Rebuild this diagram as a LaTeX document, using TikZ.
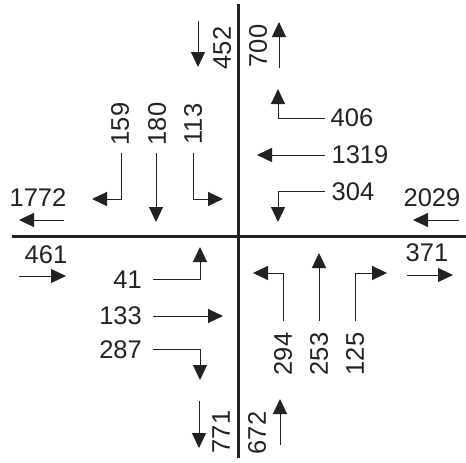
\documentclass[tikz,border=0pt]{standalone}
\usepackage{fontspec}
\setmainfont{Liberation Sans}
\usetikzlibrary{arrows.meta}
\definecolor{ink}{HTML}{222222}
\begin{document}
\begin{tikzpicture}[x=1pt,y=-1pt,
  road/.style={line width=3pt, draw=ink},
  flow/.style={line width=1pt, draw=ink, -{Triangle[length=15pt,width=14pt]}},
  count/.style={inner sep=0pt, text=ink, font=\fontsize{25.5}{25.5}\selectfont},
  vcount/.style={count, rotate=90}]
\useasboundingbox (0,0) rectangle (466,463);

% ---- the two crossing roads ----
\coordinate (roadN) at (238,4);
\coordinate (roadS) at (238,458);
\coordinate (roadW) at (12,236);
\coordinate (roadE) at (466,236);
\draw[road] (roadN) -- (roadS);
\draw[road] (roadW) -- (roadE);

% ---- north-west quadrant ----
\coordinate (s452) at (198,21);  \coordinate (t452) at (198,67);
\node[vcount] (l452) at (222,48) {452};
\draw[flow] (s452) -- (t452);

\node[vcount] (l159) at (120,124) {159};
\coordinate (s159) at (121,153); \coordinate (k159) at (121,199); \coordinate (t159) at (92,199);
\draw[flow] (s159) -- (k159) -- (t159);

\node[vcount] (l180) at (157,124) {180};
\coordinate (s180) at (156,153); \coordinate (t180) at (156,222);
\draw[flow] (s180) -- (t180);

\node[vcount] (l113) at (193,124) {113};
\coordinate (s113) at (193,153); \coordinate (k113) at (193,199); \coordinate (t113) at (223,199);
\draw[flow] (s113) -- (k113) -- (t113);

\node[count] (l1772) at (38,198) {1772};
\coordinate (s1772) at (64,220); \coordinate (t1772) at (19,220);
\draw[flow] (s1772) -- (t1772);

% ---- north-east quadrant ----
\node[vcount] (l700) at (258,46) {700};
\coordinate (s700) at (279,68); \coordinate (t700) at (279,22);
\draw[flow] (s700) -- (t700);

\node[count] (l406) at (352,118) {406};
\coordinate (s406) at (325,118); \coordinate (k406) at (278,118); \coordinate (t406) at (278,89);
\draw[flow] (s406) -- (k406) -- (t406);

\node[count] (l1319) at (360,155) {1319};
\coordinate (s1319) at (325,155); \coordinate (t1319) at (257,155);
\draw[flow] (s1319) -- (t1319);

\node[count] (l304) at (353,192) {304};
\coordinate (s304) at (325,191); \coordinate (k304) at (278,191); \coordinate (t304) at (278,222);
\draw[flow] (s304) -- (k304) -- (t304);

\node[count] (l2029) at (432,198) {2029};
\coordinate (s2029) at (459,220); \coordinate (t2029) at (413,220);
\draw[flow] (s2029) -- (t2029);

% ---- south-west quadrant ----
\node[count] (l461) at (46,255) {461};
\coordinate (s461) at (19,276); \coordinate (t461) at (66,276);
\draw[flow] (s461) -- (t461);

\node[count, anchor=east] (l41) at (142,280) {41};
\coordinate (s41) at (153,279); \coordinate (k41) at (200,279); \coordinate (t41) at (200,247);
\draw[flow] (s41) -- (k41) -- (t41);

\node[count, anchor=east] (l133) at (142,316) {133};
\coordinate (s133) at (153,316); \coordinate (t133) at (223,316);
\draw[flow] (s133) -- (t133);

\node[count, anchor=east] (l287) at (142,350) {287};
\coordinate (s287) at (153,349); \coordinate (k287) at (200,349); \coordinate (t287) at (200,380);
\draw[flow] (s287) -- (k287) -- (t287);

\node[vcount] (l771) at (221,432) {771};
\coordinate (s771) at (199,401); \coordinate (t771) at (199,448);
\draw[flow] (s771) -- (t771);

% ---- south-east quadrant ----
\node[count] (l371) at (427,253) {371};
\coordinate (s371) at (407,275); \coordinate (t371) at (453,275);
\draw[flow] (s371) -- (t371);

\node[vcount] (l294) at (283,354) {294};
\coordinate (s294) at (283,321); \coordinate (k294) at (283,273); \coordinate (t294) at (253,273);
\draw[flow] (s294) -- (k294) -- (t294);

\node[vcount] (l253) at (319,354) {253};
\coordinate (s253) at (319,321); \coordinate (t253) at (319,253);
\draw[flow] (s253) -- (t253);

\node[vcount] (l125) at (355,354) {125};
\coordinate (s125) at (355,321); \coordinate (k125) at (355,273); \coordinate (t125) at (387,273);
\draw[flow] (s125) -- (k125) -- (t125);

\node[vcount] (l672) at (257,433) {672};
\coordinate (s672) at (280,445); \coordinate (t672) at (280,399);
\draw[flow] (s672) -- (t672);
\end{tikzpicture}
\end{document}
